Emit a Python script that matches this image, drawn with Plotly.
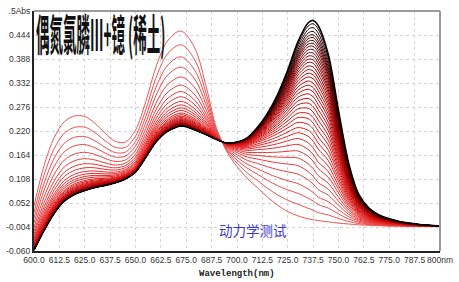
import plotly.graph_objects as go

# ---------------- data ----------------
wavelengths = [600, 605, 610, 615, 620, 625, 630, 635, 640, 645, 650, 655, 660, 665, 670, 672.5,
               675, 680, 685, 690, 695, 700, 705, 710, 715, 720, 725, 730, 735, 737.5,
               740, 745, 750, 755, 760, 765, 770, 775, 780, 785, 790, 795, 800]

# first scan (reddest curve)
first_scan_abs = [0.045, 0.140, 0.205, 0.242, 0.255, 0.254, 0.238, 0.215, 0.196, 0.194, 0.222, 0.288,
                  0.368, 0.425, 0.450, 0.453, 0.445, 0.405, 0.320, 0.225, 0.172, 0.137, 0.110, 0.088,
                  0.066, 0.047, 0.032, 0.022, 0.015, 0.013, 0.011, 0.008, 0.005, 0.003, 0.001, 0.000,
                  -0.001, -0.002, -0.002, -0.003, -0.003, -0.003, -0.003]

# last scan (black curve)
last_scan_abs = [-0.058, -0.012, 0.028, 0.057, 0.072, 0.081, 0.088, 0.093, 0.099, 0.108, 0.124, 0.158,
                 0.194, 0.217, 0.229, 0.232, 0.230, 0.221, 0.211, 0.200, 0.192, 0.194, 0.204, 0.228,
                 0.261, 0.305, 0.362, 0.428, 0.472, 0.478, 0.466, 0.398, 0.268, 0.145, 0.072, 0.040,
                 0.024, 0.015, 0.009, 0.005, 0.002, 0.000, -0.002]

# absorbance of each scan at the 672.5 nm band (decreasing)
peak_672_abs = [0.453, 0.421, 0.393, 0.369, 0.346, 0.327, 0.312, 0.300, 0.289, 0.281,
                0.274, 0.268, 0.262, 0.258, 0.2545, 0.2515, 0.249, 0.2468, 0.2448, 0.2430,
                0.2414, 0.2400, 0.2388, 0.2377, 0.2367, 0.2358, 0.2350, 0.2343, 0.2337, 0.2334,
                0.2331, 0.2329, 0.2327, 0.2325, 0.2324, 0.2323, 0.2322, 0.2321, 0.23205, 0.232]

# absorbance of each scan at 745 nm (increasing)
abs_745 = [0.008, 0.024, 0.040, 0.055, 0.070, 0.084, 0.098, 0.112, 0.125, 0.138,
           0.151, 0.163, 0.175, 0.187, 0.198, 0.209, 0.220, 0.230, 0.240, 0.250,
           0.259, 0.268, 0.277, 0.285, 0.293, 0.301, 0.309, 0.316, 0.323, 0.330,
           0.337, 0.344, 0.350, 0.356, 0.362, 0.368, 0.375, 0.383, 0.391, 0.398]

x_tick_vals = [600.0, 612.5, 625.0, 637.5, 650.0, 662.5, 675.0, 687.5, 700.0,
               712.5, 725.0, 737.5, 750.0, 762.5, 775.0, 787.5, 800.0]
x_tick_text = ["600.0", "612.5", "625.0", "637.5", "650.0", "662.5", "675.0", "687.5", "700.0",
               "712.5", "725.0", "737.5", "750.0", "762.5", "775.0", "787.5", "800nm"]
y_tick_vals = [-0.060, -0.004, 0.052, 0.108, 0.164, 0.220, 0.276, 0.332, 0.388, 0.444, 0.5]
y_tick_text = ["-0.060", "-0.004", "0.052", "0.108", "0.164", "0.220", "0.276", "0.332",
               "0.388", "0.444", ".5Abs"]

title_text = "偶氮氯膦Ⅲ+镱 (稀土)"
note_text = "动力学测试"
x_title = "Wavelength(nm)"

# ---------------- build figure ----------------
n = len(peak_672_abs)
prog_left = [(peak_672_abs[0] - v) / (peak_672_abs[0] - peak_672_abs[-1]) for v in peak_672_abs]
prog_right = [(v - abs_745[0]) / (abs_745[-1] - abs_745[0]) for v in abs_745]


def left_weight(wl):
    if wl <= 700:
        return 1.0
    if wl >= 740:
        return 0.0
    return (740 - wl) / 40.0


def colour(t):
    stops = [(0.0, (240, 85, 85)), (0.3, (226, 25, 25)), (0.6, (170, 0, 0)),
             (0.85, (90, 0, 0)), (1.0, (8, 0, 0))]
    for (t0, c0), (t1, c1) in zip(stops[:-1], stops[1:]):
        if t <= t1:
            f = (t - t0) / (t1 - t0)
            c = [round(a + (b - a) * f) for a, b in zip(c0, c1)]
            return "rgb(%d,%d,%d)" % tuple(c)
    return "rgb(8,0,0)"


fig = go.Figure()
for i in range(n):
    ys = []
    for wl, a, b in zip(wavelengths, first_scan_abs, last_scan_abs):
        w = left_weight(wl)
        f = w * prog_left[i] + (1 - w) * prog_right[i]
        ys.append(a + (b - a) * f)
    t = i / (n - 1)
    fig.add_trace(go.Scatter(
        x=wavelengths, y=ys, mode="lines",
        line=dict(color=colour(t), width=1.6 if i == n - 1 else 1.0,
                  shape="spline", smoothing=0.9),
        hoverinfo="skip", showlegend=False))

tick_font = dict(family="Liberation Sans, Arial", size=8.5, color="#333333")

fig.update_layout(
    width=459, height=282,
    margin=dict(l=33, r=17, t=6, b=31),
    paper_bgcolor="white", plot_bgcolor="white",
    xaxis=dict(range=[600, 800], tickmode="array", tickvals=x_tick_vals, ticktext=x_tick_text,
               showgrid=True, gridcolor="#d4d4d4", griddash="dot", gridwidth=1,
               showline=True, linecolor="#222222", linewidth=2, zeroline=False,
               ticks="", tickfont=tick_font, tickangle=0),
    yaxis=dict(range=[-0.060, 0.5], tickmode="array", tickvals=y_tick_vals, ticktext=y_tick_text,
               showgrid=True, gridcolor="#d4d4d4", griddash="dot", gridwidth=1,
               showline=True, linecolor="#222222", linewidth=2, zeroline=False,
               ticks="", tickfont=tick_font),
    shapes=[
        dict(type="line", xref="paper", yref="paper", x0=0, x1=1, y0=1, y1=1,
             line=dict(color="#9a9a9a", width=2)),
        dict(type="line", xref="paper", yref="paper", x0=1, x1=1, y0=0, y1=1,
             line=dict(color="#9a9a9a", width=2)),
    ],
    annotations=[
        dict(text=title_text, xref="paper", yref="paper", x=0.0, y=1.05,
             xanchor="left", yanchor="top", showarrow=False,
             font=dict(family="Noto Sans CJK SC", size=27, color="#111111", weight=700)),
        dict(text=note_text, xref="paper", yref="paper", x=0.45, y=0.086,
             xanchor="left", yanchor="middle", showarrow=False,
             font=dict(family="Noto Sans CJK SC", size=13.5, color="#3a3ad0")),
        dict(text=x_title, xref="paper", yref="paper", x=0.5, y=-0.094,
             xanchor="center", yanchor="middle", showarrow=False,
             font=dict(family="Liberation Mono, DejaVu Sans Mono", size=9, color="#222222",
                       weight=700)),
    ],
)

post_js = """
var gd = document.getElementById('{plot_id}');
gd.querySelectorAll('text.annotation-text').forEach(function(t){
  if (t.textContent.indexOf('偶') >= 0) {
    var b = t.getBBox();
    t.setAttribute('transform', 'translate(' + b.x + ',' + b.y + ') scale(0.50,1.6) translate(' + (-b.x) + ',' + (-b.y) + ')');
  }
});
"""

fig.write_html("out.html", post_script=post_js)
